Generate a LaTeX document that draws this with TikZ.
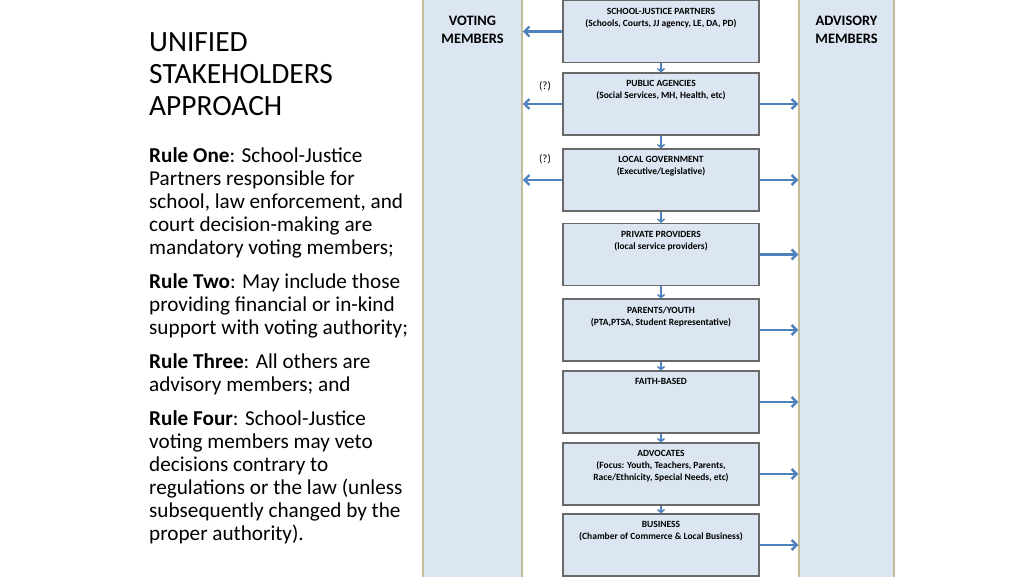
\documentclass[tikz,border=0pt]{standalone}
\usepackage{fontspec}
\setmainfont{Carlito}
\usetikzlibrary{arrows.meta}
\definecolor{boxfill}{RGB}{220,230,242}
\definecolor{boxline}{RGB}{105,105,105}
\definecolor{colline}{RGB}{196,189,151}
\definecolor{flowblue}{RGB}{79,129,189}
\begin{document}
\begin{tikzpicture}[x=1pt,y=-1pt,
	group/.style={draw=boxline, line width=1.1pt, fill=boxfill, minimum width=196pt, minimum height=62pt, inner sep=0pt,
		label={[anchor=north, yshift=-4.5pt, align=center, font=\bfseries\fontsize{9.5}{12}\selectfont]north:{#1}}},
	member/.style={draw=colline, line width=1.5pt, fill=boxfill, minimum height=580pt, inner sep=0pt,
		label={[anchor=north, yshift=-15.5pt, align=center, font=\bfseries\fontsize{14.4}{18}\selectfont]north:{#1}}},
	flow/.style={draw=flowblue, line width=2.4pt, -{Straight Barb[length=5pt, width=10pt]}},
	down/.style={draw=flowblue, line width=1.5pt, -{Straight Barb[length=3pt, width=7pt]}}]
	\useasboundingbox (0,0) rectangle (1024,576);

	\node[anchor=north west, inner sep=0pt, align=left, font=\fontsize{29.4}{32}\selectfont] (title) at (149,32.5) {UNIFIED\\STAKEHOLDERS\\APPROACH};
	\node[anchor=north west, inner sep=0pt, align=left, font=\fontsize{21.2}{23}\selectfont] (rules) at (149,147)
		{\textbf{Rule One}: School-Justice\\Partners responsible for\\school, law enforcement, and\\court decision-making are\\mandatory voting members;\\[11pt]
		\textbf{Rule Two}: May include those\\providing financial or in-kind\\support with voting authority;\\[11pt]
		\textbf{Rule Three}: All others are\\advisory members; and\\[11pt]
		\textbf{Rule Four}: School-Justice\\voting members may veto\\decisions contrary to\\regulations or the law (unless\\subsequently changed by the\\proper authority).};

	\node[member={VOTING\\MEMBERS}, minimum width=99pt] (voting) at (472.5,288) {};
	\node[member={ADVISORY\\MEMBERS}, minimum width=95pt] (advisory) at (846.5,288) {};

	\node[group={SCHOOL-JUSTICE PARTNERS\\(Schools, Courts, JJ agency, LE, DA, PD)}] (sjp) at (661,31.5) {};
	\node[group={PUBLIC AGENCIES\\(Social Services, MH, Health, etc)}] (public) at (661,104) {};
	\node[group={LOCAL GOVERNMENT\\(Executive/Legislative)}] (localgov) at (661,180) {};
	\node[group={PRIVATE PROVIDERS\\(local service providers)}] (private) at (661,254.5) {};
	\node[group={PARENTS/YOUTH\\(PTA,PTSA, Student Representative)}] (parents) at (661,330) {};
	\node[group={FAITH-BASED}] (faith) at (661,402) {};
	\node[group={ADVOCATES\\(Focus: Youth, Teachers, Parents,\\Race/Ethnicity, Special Needs, etc)}] (advocates) at (661,474) {};
	\node[group={BUSINESS\\(Chamber of Commerce \& Local Business)}] (business) at (661,545) {};

	\node[font=\fontsize{11}{13}\selectfont] (q1) at (545,86) {(?)};
	\node[font=\fontsize{11}{13}\selectfont] (q2) at (545,159) {(?)};

	\draw[down] (sjp) -- (public);
	\draw[down] (public) -- (localgov);
	\draw[down] (localgov) -- (private);
	\draw[down] (private) -- (parents);
	\draw[down] (parents) -- (faith);
	\draw[down] (faith) -- (advocates);
	\draw[down] (advocates) -- (business);

	\draw[flow] (sjp.west) -- (sjp.west -| voting.east);
	\draw[flow] (public.west) -- (public.west -| voting.east);
	\draw[flow] (localgov.west) -- (localgov.west -| voting.east);
	\foreach \g in {public,localgov,private,parents,faith,advocates,business}
		\draw[flow] (\g.east) -- (\g.east -| advisory.west);
\end{tikzpicture}
\end{document}
